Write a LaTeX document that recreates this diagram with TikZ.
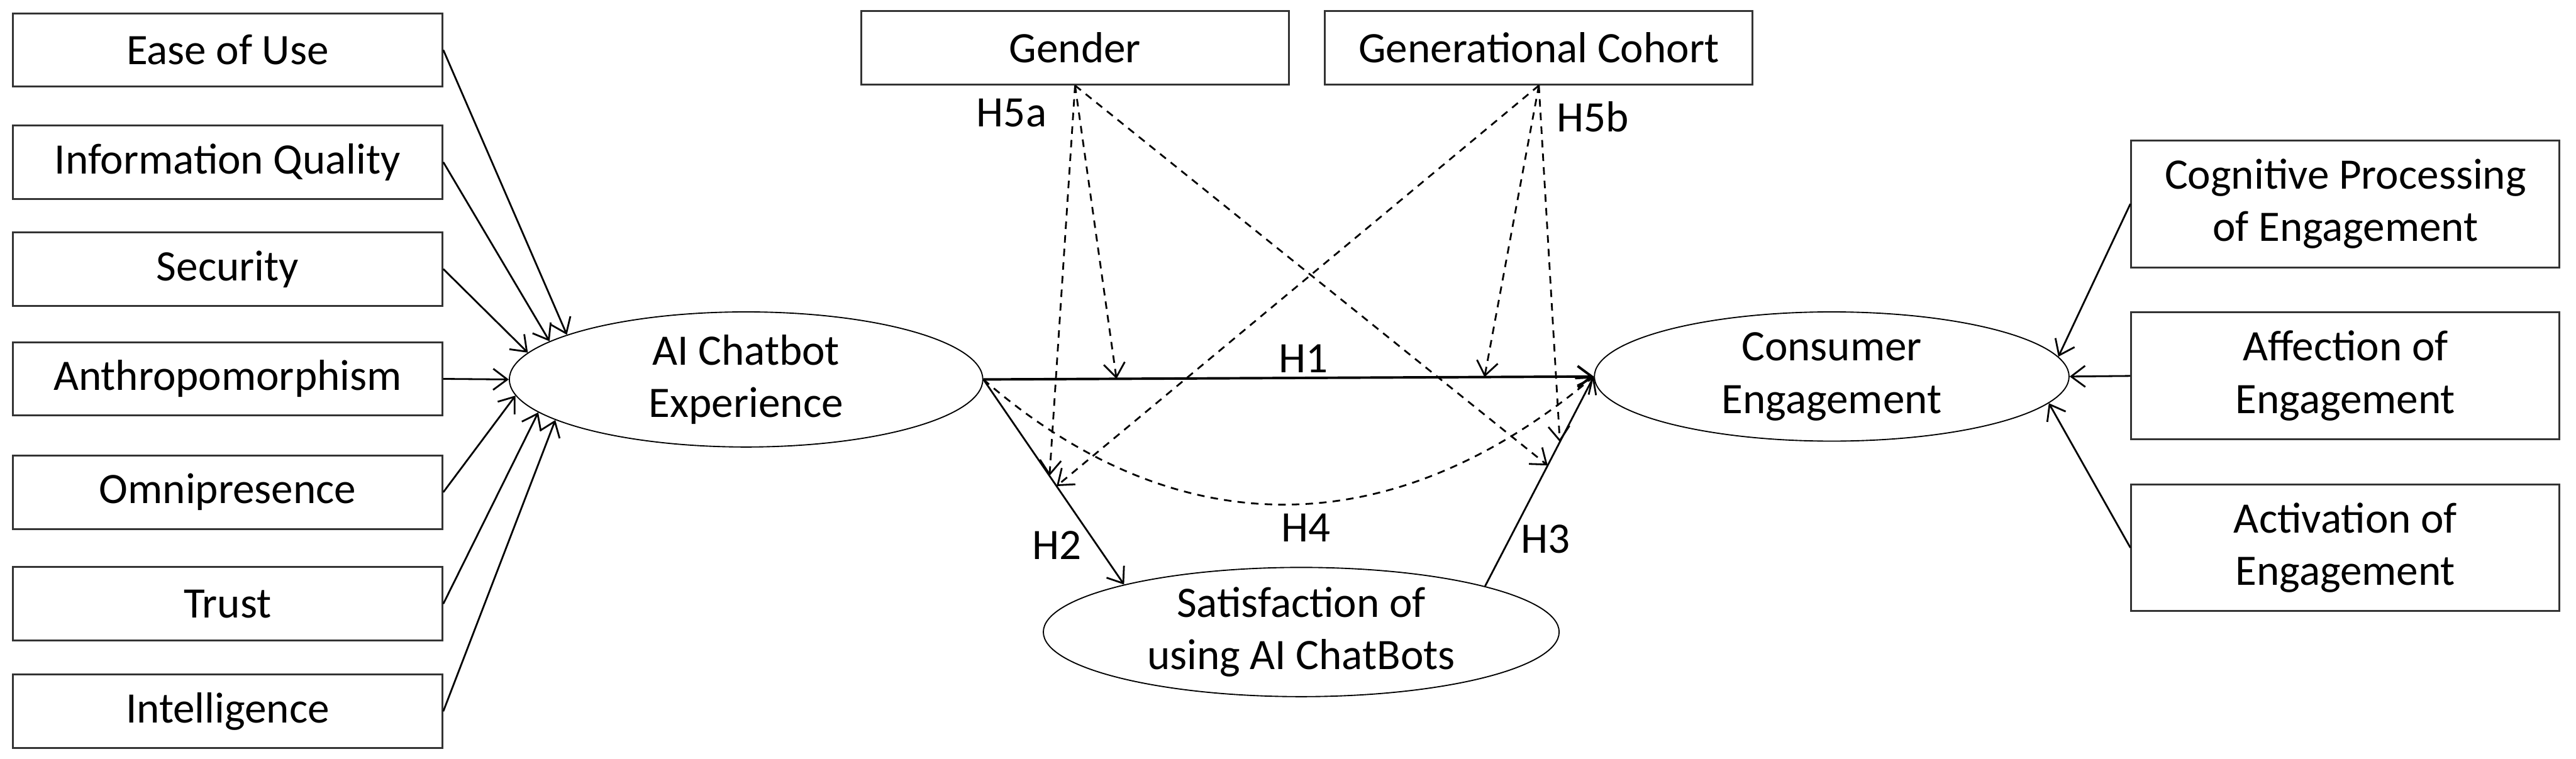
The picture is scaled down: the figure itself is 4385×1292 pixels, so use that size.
\documentclass[tikz,border=0pt]{standalone}
\usepackage{fontspec}
\setmainfont{Carlito}
\usetikzlibrary{arrows.meta,shapes.geometric}
\begin{document}
\begin{tikzpicture}[x=0.25pt,y=-0.25pt,
  txt/.style={font=\fontsize{18.5pt}{22.4pt}\selectfont, align=center},
  box/.style={txt, draw=black!80, line width=0.8pt, rectangle, inner sep=0pt},
  lbox/.style={box, minimum width=182.75pt, minimum height=31.25pt},
  tbox/.style={box, minimum width=182pt, minimum height=31.25pt},
  rbox/.style={box, minimum width=182.25pt, minimum height=54pt},
  ell/.style={txt, ellipse, draw=black, line width=0.5pt, inner sep=0pt},
  lab/.style={txt, inner sep=0pt},
  arr/.style={line width=0.75pt, -{Straight Barb[length=6pt,width=9pt]}},
  darr/.style={arr, dash pattern=on 3.2pt off 2.6pt}
]
\useasboundingbox (0,0) rectangle (4385,1292);

% left boxes
\node[lbox] (eou)   at (387.5,85)   {Ease of Use};
\node[lbox] (iq)    at (387.5,276)  {Information Quality};
\node[lbox] (sec)   at (387.5,458)  {Security};
\node[lbox] (anth)  at (387.5,645)  {Anthropomorphism};
\node[lbox] (omni)  at (387.5,838)  {Omnipresence};
\node[lbox] (trust) at (387.5,1028) {Trust};
\node[lbox] (intel) at (387.5,1211) {Intelligence};

% top boxes
\node[tbox] (gen) at (1830,81.5)   {Gender};
\node[tbox] (gc)  at (2619.5,81.5) {Generational Cohort};

% right boxes
\node[rbox] (cog) at (3992.5,347)   {Cognitive Processing\\of Engagement};
\node[rbox] (aff) at (3992.5,640)   {Affection of\\Engagement};
\node[rbox] (act) at (3992.5,932.5) {Activation of\\Engagement};

% ellipses
\node[ell, minimum width=201.5pt, minimum height=57.5pt] (ai)  at (1270,646)  {AI Chatbot\\Experience};
\node[ell, minimum width=202pt,   minimum height=55pt]   (ce)  at (3118,641)  {Consumer\\Engagement};
\node[ell, minimum width=219.5pt, minimum height=55pt]   (sat) at (2215,1076) {Satisfaction of\\using AI ChatBots};

% left arrows
\draw[arr] (eou.east)   -- (ai.166.9);
\draw[arr] (iq.east)    -- (ai.169.2);
\draw[arr] (sec.east)   -- (ai.173.5);
\draw[arr] (anth.east)  -- (ai.180);
\draw[arr] (omni.east)  -- (ai.184.9);
\draw[arr] (trust.east) -- (ai.189.0);
\draw[arr] (intel.east) -- (ai.192.5);

% right arrows
\draw[arr] (cog.west) -- (ce.5.2);
\draw[arr] (aff.west) -- (ce.east);
\draw[arr] (act.west) -- (ce.353.5);

% hypotheses
\draw[arr, line width=1.05pt] (ai.east) -- coordinate[pos=0.218] (m1) coordinate[pos=0.821] (m2) (ce.west);
\draw[arr] (ai.east) -- coordinate[pos=0.47] (m3) coordinate[pos=0.52] (m4) (sat.165.8);
\draw[arr] (sat.14.3) -- coordinate[pos=0.576] (m5) coordinate[pos=0.688] (m6) (ce.west);
\draw[darr] (ai.east) .. controls +(330,287) and +(-342,287) .. (ce.west);

% moderators
\draw[darr] (gen.south) -- (m1);
\draw[darr] (gen.south) -- (m3);
\draw[darr] (gen.south) -- (m5);
\draw[darr] (gc.south) -- (m2);
\draw[darr] (gc.south) -- (m4);
\draw[darr] (gc.south) -- (m6);

% labels
\node[lab] (h5a) at (1722,192) {H5a};
\node[lab] (h5b) at (2711,199) {H5b};
\node[lab] (h1)  at (2219,611) {H1};
\node[lab] (h2)  at (1799,928) {H2};
\node[lab] (h3)  at (2631,918) {H3};
\node[lab] (h4)  at (2223,898) {H4};
\end{tikzpicture}
\end{document}
